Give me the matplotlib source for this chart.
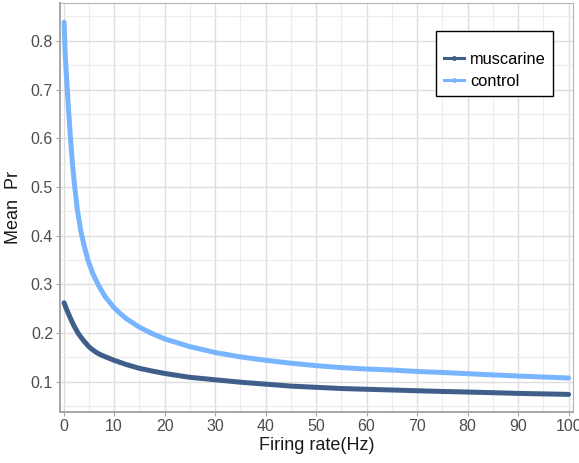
import matplotlib.pyplot as plt
import numpy as np
from matplotlib.lines import Line2D
from matplotlib.ticker import MultipleLocator

plt.rcParams['font.family'] = ['Liberation Sans', 'DejaVu Sans']

# firing rate (Hz) and mean release probability for each condition
rate_ctl = [0.1, 0.33, 0.67, 1.0, 1.33, 1.7, 2.1, 2.7, 3.4, 4.0, 4.8, 5.8,
            6.8, 8.2, 10, 11.2, 12.5, 15, 17.5, 20, 25, 30, 35, 40, 45, 50,
            55, 60, 65, 70, 75, 80, 85, 90, 95, 100]
control = [0.838, 0.770, 0.710, 0.655, 0.605, 0.555, 0.510, 0.455, 0.410,
           0.382, 0.350, 0.322, 0.300, 0.275, 0.252, 0.240, 0.229, 0.212,
           0.199, 0.188, 0.172, 0.160, 0.151, 0.144, 0.138, 0.133, 0.129,
           0.126, 0.124, 0.121, 0.119, 0.1165, 0.114, 0.1117, 0.1097,
           0.1076]
rate_mus = [0.1, 0.5, 0.9, 1.5, 2.0, 2.85, 3.4, 4, 5, 5.7, 6.5, 7.5, 8.8,
            10, 12.5, 15, 17.5, 20, 25, 30, 35, 40, 45, 50, 55, 60, 65, 70,
            75, 80, 85, 90, 95, 100]
muscarine = [0.262, 0.251, 0.241, 0.227, 0.216, 0.200, 0.192, 0.184, 0.172,
             0.166, 0.160, 0.1545, 0.149, 0.144, 0.135, 0.1275, 0.122,
             0.117, 0.109, 0.104, 0.099, 0.095, 0.091, 0.0885, 0.086,
             0.0845, 0.083, 0.0815, 0.080, 0.0788, 0.0775, 0.076, 0.075,
             0.074]

c_mus = '#3f5f8a'
c_ctl = '#79b5ff'

fig = plt.figure(figsize=(5.79, 4.63), dpi=100)
ax = fig.add_axes([60/579, 1 - 412.3/463, 513/579, 409/463])

ax.plot(rate_mus, muscarine, color=c_mus, lw=3.6, solid_capstyle='round',
        solid_joinstyle='round')
ax.plot(rate_ctl, control, color=c_ctl, lw=3.6, solid_capstyle='round',
        solid_joinstyle='round')

ax.set_xlim(-0.71, 100.87)
ax.set_ylim(0.0372, 0.877)
ax.xaxis.set_major_locator(MultipleLocator(10))
ax.xaxis.set_minor_locator(MultipleLocator(5))
ax.yaxis.set_minor_locator(MultipleLocator(0.05))
ax.set_yticks(np.arange(0.1, 0.81, 0.1))
ax.set_yticklabels(['0.1', '0.2', '0.3', '0.4', '0.5', '0.6', '0.7', '0.8'])

ax.grid(which='major', color='#dedede', lw=1.0)
ax.grid(which='minor', color='#ececec', lw=0.8)
ax.set_axisbelow(True)

for side in ['top', 'right']:
    ax.spines[side].set_color('#b3b3b3')
    ax.spines[side].set_linewidth(0.8)
for side in ['left', 'bottom']:
    ax.spines[side].set_color('#a6a6a6')
    ax.spines[side].set_linewidth(1.4)

ax.tick_params(which='major', length=3, color='#a6a6a6', labelsize=11.5,
               labelcolor='#4d4d4d', pad=2)
ax.tick_params(which='minor', length=0)

ax.set_xlabel('Firing rate(Hz)', fontsize=13, color='#1a1a1a', labelpad=2)
ax.set_ylabel('Mean  Pr', fontsize=13, color='#1a1a1a', labelpad=6)

handles = [Line2D([], [], color=c_mus, lw=2.2, marker='o', ms=2.5),
           Line2D([], [], color=c_ctl, lw=2.2, marker='o', ms=2.5)]
leg = ax.legend(handles, ['muscarine', 'control'], loc='upper right',
                bbox_to_anchor=(0.961, 0.932), borderaxespad=0,
                fontsize=11.8, frameon=True, fancybox=False,
                handlelength=1.25, handletextpad=0.35, borderpad=0.45,
                labelspacing=0.4, title=' ', title_fontsize=5)
leg.get_frame().set_edgecolor('black')
leg.get_frame().set_linewidth(1.0)
leg.get_frame().set_alpha(1)

plt.savefig('out.png', dpi=100)
